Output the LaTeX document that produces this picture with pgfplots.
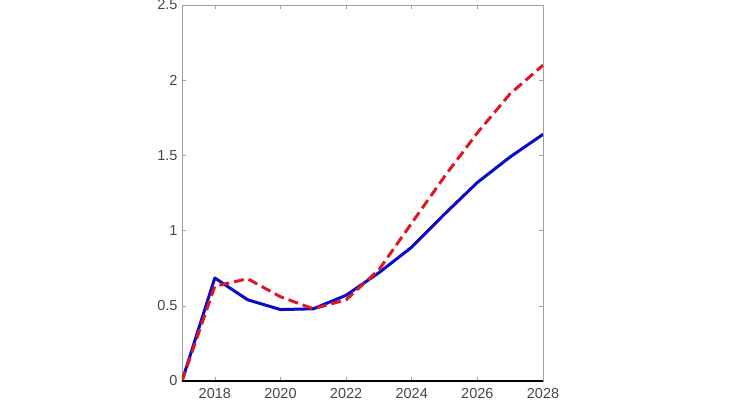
\documentclass[border=0pt]{standalone}
\usepackage{pgfplots}
\pgfplotsset{compat=1.18}
\usepackage{fontspec}
\setmainfont{Liberation Sans}
\definecolor{myblue}{RGB}{10,10,200}
\definecolor{myred}{RGB}{220,25,35}
\definecolor{axgray}{RGB}{160,160,160}
\definecolor{txtgray}{RGB}{70,70,70}
\begin{document}
\begin{tikzpicture}
\useasboundingbox (-182pt,-29pt) rectangle (548pt,381pt);
\begin{axis}[
  at={(0,0)}, anchor=south west,
  scale only axis, width=361pt, height=376pt,
  xmin=2017, xmax=2028, ymin=0, ymax=2.5,
  xtick={2018,2020,...,2028},
  ytick={0,0.5,...,2.5},
  yticklabels={0,0.5,1,1.5,2,2.5},
  xticklabel style={/pgf/number format/1000 sep={}},
  /pgf/number format/assume math mode=true,
  tick label style={font=\fontsize{14.5}{16}\selectfont, text=txtgray},
  axis line style={axgray, line width=0.8pt},
  tick style={axgray, line width=0.6pt},
  tick align=inside,
  major tick length=4pt,
  every x tick label/.append style={yshift=-4pt},
  every y tick label/.append style={xshift=-1pt},
]
\addplot[myblue, line width=3pt, line join=round] coordinates {
(2017,0) (2018,0.685) (2019,0.54) (2020,0.475) (2021,0.48) (2022,0.57) (2023,0.72) (2024,0.89) (2025,1.11) (2026,1.32) (2027,1.49) (2028,1.64)};
\addplot[myred, line width=3pt, dash pattern=on 10pt off 5pt] coordinates {
(2017,0) (2018,0.63) (2019,0.68) (2020,0.56) (2021,0.48) (2022,0.54) (2023,0.74) (2024,1.05) (2025,1.36) (2026,1.65) (2027,1.91) (2028,2.10)};
\draw[black, line width=1.5pt] (axis cs:2017,0) -- (axis cs:2028,0);
\end{axis}
\end{tikzpicture}
\end{document}
